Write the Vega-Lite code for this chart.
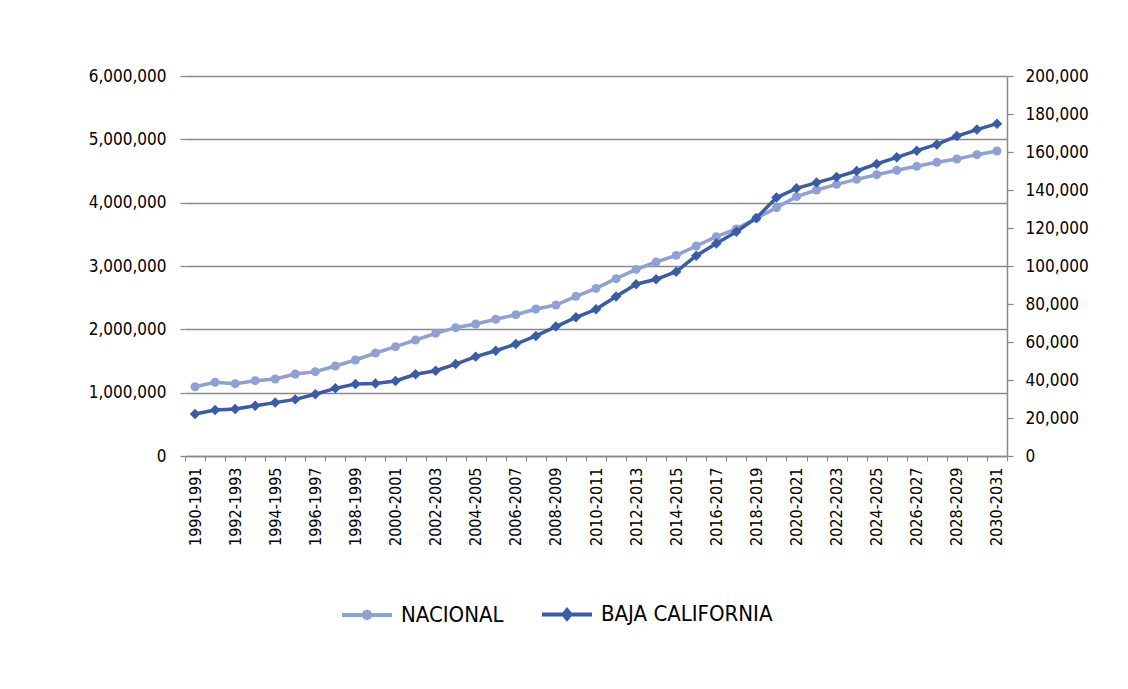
{
  "$schema": "https://vega.github.io/schema/vega-lite/v6.json",
  "width": 822,
  "height": 380,
  "autosize": "none",
  "padding": {"left": 185, "top": 76, "right": 121, "bottom": 233},
  "background": "white",
  "config": {
    "font": "Liberation Sans Narrow, DejaVu Sans Condensed, sans-serif",
    "view": {"stroke": null},
    "axis": {"labelColor": "#000", "labelFont": "Liberation Sans Narrow, DejaVu Sans Condensed, sans-serif"}
  },
  "data": {"values": [
    {"p": "1990-1991", "s": "NACIONAL", "v": 1094000}, {"p": "1991-1992", "s": "NACIONAL", "v": 1163000},
    {"p": "1992-1993", "s": "NACIONAL", "v": 1142000}, {"p": "1993-1994", "s": "NACIONAL", "v": 1189000},
    {"p": "1994-1995", "s": "NACIONAL", "v": 1216000}, {"p": "1995-1996", "s": "NACIONAL", "v": 1295000},
    {"p": "1996-1997", "s": "NACIONAL", "v": 1331000}, {"p": "1997-1998", "s": "NACIONAL", "v": 1421000},
    {"p": "1998-1999", "s": "NACIONAL", "v": 1516000}, {"p": "1999-2000", "s": "NACIONAL", "v": 1626000},
    {"p": "2000-2001", "s": "NACIONAL", "v": 1726000}, {"p": "2001-2002", "s": "NACIONAL", "v": 1832000},
    {"p": "2002-2003", "s": "NACIONAL", "v": 1937000}, {"p": "2003-2004", "s": "NACIONAL", "v": 2026000},
    {"p": "2004-2005", "s": "NACIONAL", "v": 2084000}, {"p": "2005-2006", "s": "NACIONAL", "v": 2158000},
    {"p": "2006-2007", "s": "NACIONAL", "v": 2231000}, {"p": "2007-2008", "s": "NACIONAL", "v": 2321000},
    {"p": "2008-2009", "s": "NACIONAL", "v": 2384000}, {"p": "2009-2010", "s": "NACIONAL", "v": 2521000},
    {"p": "2010-2011", "s": "NACIONAL", "v": 2647000}, {"p": "2011-2012", "s": "NACIONAL", "v": 2800000},
    {"p": "2012-2013", "s": "NACIONAL", "v": 2947000}, {"p": "2013-2014", "s": "NACIONAL", "v": 3063000},
    {"p": "2014-2015", "s": "NACIONAL", "v": 3168000}, {"p": "2015-2016", "s": "NACIONAL", "v": 3316000},
    {"p": "2016-2017", "s": "NACIONAL", "v": 3463000}, {"p": "2017-2018", "s": "NACIONAL", "v": 3586000},
    {"p": "2018-2019", "s": "NACIONAL", "v": 3753000}, {"p": "2019-2020", "s": "NACIONAL", "v": 3921000},
    {"p": "2020-2021", "s": "NACIONAL", "v": 4095000}, {"p": "2021-2022", "s": "NACIONAL", "v": 4200000},
    {"p": "2022-2023", "s": "NACIONAL", "v": 4289000}, {"p": "2023-2024", "s": "NACIONAL", "v": 4368000},
    {"p": "2024-2025", "s": "NACIONAL", "v": 4442000}, {"p": "2025-2026", "s": "NACIONAL", "v": 4511000},
    {"p": "2026-2027", "s": "NACIONAL", "v": 4574000}, {"p": "2027-2028", "s": "NACIONAL", "v": 4637000},
    {"p": "2028-2029", "s": "NACIONAL", "v": 4689000}, {"p": "2029-2030", "s": "NACIONAL", "v": 4758000},
    {"p": "2030-2031", "s": "NACIONAL", "v": 4816000},
    {"p": "1990-1991", "s": "BAJA CALIFORNIA", "v": 22100}, {"p": "1991-1992", "s": "BAJA CALIFORNIA", "v": 24200},
    {"p": "1992-1993", "s": "BAJA CALIFORNIA", "v": 24700}, {"p": "1993-1994", "s": "BAJA CALIFORNIA", "v": 26500},
    {"p": "1994-1995", "s": "BAJA CALIFORNIA", "v": 28100}, {"p": "1995-1996", "s": "BAJA CALIFORNIA", "v": 29800},
    {"p": "1996-1997", "s": "BAJA CALIFORNIA", "v": 32500}, {"p": "1997-1998", "s": "BAJA CALIFORNIA", "v": 35600},
    {"p": "1998-1999", "s": "BAJA CALIFORNIA", "v": 37900}, {"p": "1999-2000", "s": "BAJA CALIFORNIA", "v": 38200},
    {"p": "2000-2001", "s": "BAJA CALIFORNIA", "v": 39500}, {"p": "2001-2002", "s": "BAJA CALIFORNIA", "v": 43000},
    {"p": "2002-2003", "s": "BAJA CALIFORNIA", "v": 44900}, {"p": "2003-2004", "s": "BAJA CALIFORNIA", "v": 48400},
    {"p": "2004-2005", "s": "BAJA CALIFORNIA", "v": 52300}, {"p": "2005-2006", "s": "BAJA CALIFORNIA", "v": 55400},
    {"p": "2006-2007", "s": "BAJA CALIFORNIA", "v": 58900}, {"p": "2007-2008", "s": "BAJA CALIFORNIA", "v": 63200},
    {"p": "2008-2009", "s": "BAJA CALIFORNIA", "v": 68100}, {"p": "2009-2010", "s": "BAJA CALIFORNIA", "v": 73000},
    {"p": "2010-2011", "s": "BAJA CALIFORNIA", "v": 77200}, {"p": "2011-2012", "s": "BAJA CALIFORNIA", "v": 83900},
    {"p": "2012-2013", "s": "BAJA CALIFORNIA", "v": 90400}, {"p": "2013-2014", "s": "BAJA CALIFORNIA", "v": 93000},
    {"p": "2014-2015", "s": "BAJA CALIFORNIA", "v": 97000}, {"p": "2015-2016", "s": "BAJA CALIFORNIA", "v": 105400},
    {"p": "2016-2017", "s": "BAJA CALIFORNIA", "v": 111900}, {"p": "2017-2018", "s": "BAJA CALIFORNIA", "v": 118000},
    {"p": "2018-2019", "s": "BAJA CALIFORNIA", "v": 125300}, {"p": "2019-2020", "s": "BAJA CALIFORNIA", "v": 136000},
    {"p": "2020-2021", "s": "BAJA CALIFORNIA", "v": 140900}, {"p": "2021-2022", "s": "BAJA CALIFORNIA", "v": 143900},
    {"p": "2022-2023", "s": "BAJA CALIFORNIA", "v": 146800}, {"p": "2023-2024", "s": "BAJA CALIFORNIA", "v": 150000},
    {"p": "2024-2025", "s": "BAJA CALIFORNIA", "v": 153700}, {"p": "2025-2026", "s": "BAJA CALIFORNIA", "v": 157200},
    {"p": "2026-2027", "s": "BAJA CALIFORNIA", "v": 160700}, {"p": "2027-2028", "s": "BAJA CALIFORNIA", "v": 164000},
    {"p": "2028-2029", "s": "BAJA CALIFORNIA", "v": 168400}, {"p": "2029-2030", "s": "BAJA CALIFORNIA", "v": 171800},
    {"p": "2030-2031", "s": "BAJA CALIFORNIA", "v": 174900}
  ]},
  "encoding": {
    "x": {
      "field": "p", "type": "nominal", "sort": null,
      "scale": {"type": "band", "paddingInner": 0, "paddingOuter": 0},
      "axis": {
        "title": null, "labelAngle": -90, "labelFontSize": 16, "labelPadding": 6,
        "labelExpr": "toNumber(substring(datum.value, 0, 4)) % 2 == 0 ? datum.value : ''",
        "tickBand": "extent", "tickSize": 5, "tickColor": "#888", "domainColor": "#888",
        "domainWidth": 1.5, "labelOverlap": false, "grid": false
      }
    }
  },
  "layer": [
    {
      "transform": [{"filter": "datum.s == 'NACIONAL'"}],
      "mark": {"type": "line", "strokeWidth": 3.5, "point": {"filled": true, "shape": "circle", "size": 80}},
      "encoding": {
        "y": {
          "field": "v", "type": "quantitative",
          "scale": {"domain": [0, 6000000], "nice": false},
          "axis": {
            "title": null, "orient": "left", "values": [0, 1000000, 2000000, 3000000, 4000000, 5000000, 6000000],
            "format": ",.0f", "labelFontSize": 17, "labelPadding": 14, "domain": false,
            "grid": true, "gridColor": "#8a8a8a", "gridWidth": 1.3, "tickColor": "#8a8a8a", "tickWidth": 1.3, "tickSize": 5
          }
        },
        "color": {
          "field": "s", "type": "nominal",
          "scale": {"domain": ["NACIONAL", "BAJA CALIFORNIA"], "range": ["#8FA0D6", "#3A5CA8"]},
          "legend": {
            "title": null, "orient": "none", "direction": "horizontal",
            "legendX": 155, "legendY": 511, "padding": 0,
            "symbolSize": 2500, "labelFontSize": 22, "labelOffset": 7, "columnPadding": 30,
            "labelColor": "#000", "labelLimit": 500,
            "encode": {
              "symbols": {
                "update": {
                  "shape": {"signal": "datum.value == 'NACIONAL' ? 'M-1,0L1,0M0.13,0L0.092,0.092L0,0.13L-0.092,0.092L-0.13,0L-0.092,-0.092L0,-0.13L0.092,-0.092Z' : 'M-1,0L1,0M0,-0.17L0.14,0L0,0.17L-0.14,0Z'"},
                  "stroke": {"signal": "scale('color', datum.value)"},
                  "fill": {"signal": "scale('color', datum.value)"},
                  "strokeWidth": {"value": 4},
                  "opacity": {"value": 1}
                }
              }
            }
          }
        }
      }
    },
    {
      "transform": [{"filter": "datum.s == 'BAJA CALIFORNIA'"}],
      "mark": {"type": "line", "strokeWidth": 3.5, "point": {"filled": true, "shape": "diamond", "size": 110}},
      "encoding": {
        "y": {
          "field": "v", "type": "quantitative",
          "scale": {"domain": [0, 200000], "nice": false},
          "axis": {
            "title": null, "orient": "right",
            "values": [0, 20000, 40000, 60000, 80000, 100000, 120000, 140000, 160000, 180000, 200000],
            "format": ",.0f", "labelFontSize": 17, "labelPadding": 12, "grid": false,
            "domain": true, "domainColor": "#8a8a8a", "domainWidth": 1.5,
            "tickColor": "#8a8a8a", "tickWidth": 1.3, "tickSize": 6
          }
        },
        "color": {"field": "s", "type": "nominal"}
      }
    }
  ],
  "resolve": {"scale": {"y": "independent"}, "axis": {"y": "independent"}}
}
